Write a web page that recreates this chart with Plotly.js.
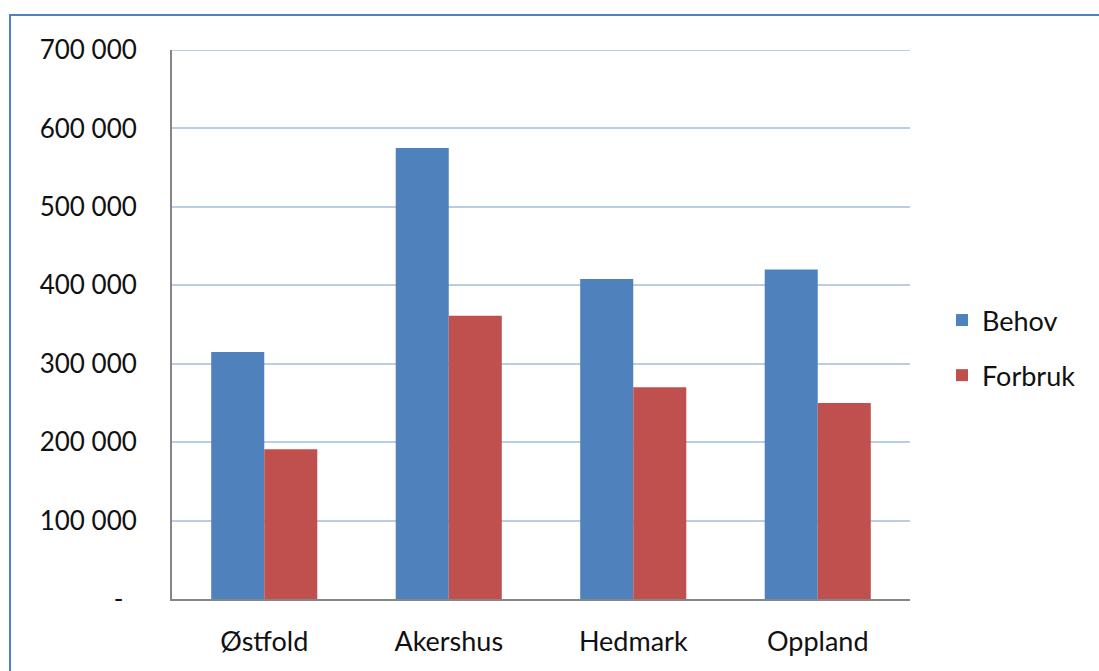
<!DOCTYPE html>
<html>
<head>
<meta charset="utf-8">
<script src="https://cdn.plot.ly/plotly-3.0.1.min.js"></script>
<style>html,body{margin:0;padding:0;background:#fff;}#chart{width:1099px;height:671px;}</style>
</head>
<body>
<div id="chart"></div>
<script>
const categories = ["Østfold", "Akershus", "Hedmark", "Oppland"];
const behov = [315000, 575000, 408000, 420000];
const forbruk = [191000, 361000, 270000, 250000];
const tickValues = [0, 100000, 200000, 300000, 400000, 500000, 600000, 700000];
const tickLabels = ["-\u00a0\u00a0", "100 000", "200 000", "300 000", "400 000", "500 000", "600 000", "700 000"];

const W = 1099, H = 671;
const L = 172, R = 910, T = 50, B = 599;
const pw = R - L, ph = B - T;
function px(x) { return (x - L) / pw; }
function py(y) { return (B - y) / ph; }

const font = "Lato, 'Open Sans', sans-serif";

const data = [
  { type: "bar", name: "Behov", x: categories, y: behov, marker: { color: "#4F81BD" }, legendgroup: "a" },
  { type: "bar", name: "Forbruk", x: categories, y: forbruk, marker: { color: "#C0504D" }, legendgroup: "b" }
];

const layout = {
  width: W, height: H,
  margin: { l: L, r: W - R, t: T, b: H - B, pad: 0 },
  paper_bgcolor: "#ffffff", plot_bgcolor: "#ffffff",
  barmode: "group", bargap: 0.425, bargroupgap: 0,
  font: { family: font, size: 26, color: "#111111" },
  showlegend: true,
  legend: { x: px(942), y: py(296), xanchor: "left", yanchor: "top", traceorder: "grouped", tracegroupgap: 17, font: { size: 27 }, bgcolor: "rgba(0,0,0,0)" },
  xaxis: { showline: true, linecolor: "#868686", linewidth: 2, ticks: "", showgrid: false, tickfont: { size: 27 }, ticklabelstandoff: 18 },
  yaxis: { range: [0, 700000], tickvals: tickValues, ticktext: tickLabels, showline: true, linecolor: "#868686", linewidth: 2, ticks: "", showgrid: true, gridcolor: "#B9CDE5", gridwidth: 2, zeroline: false, tickfont: { size: 26 }, ticklabelstandoff: 28 },
  shapes: [
    { type: "line", xref: "paper", yref: "y", x0: 0, x1: 1, y0: tickValues[tickValues.length - 1], y1: tickValues[tickValues.length - 1], line: { color: "#B9CDE5", width: 2 }, layer: "below" },
    { type: "rect", xref: "paper", yref: "paper", x0: px(10), x1: px(1200), y0: py(800), y1: py(15), line: { color: "#4F81BD", width: 2 }, fillcolor: "rgba(0,0,0,0)", layer: "above" }
  ]
};

Plotly.newPlot("chart", data, layout, { displayModeBar: false, staticPlot: true });
</script>
</body>
</html>
